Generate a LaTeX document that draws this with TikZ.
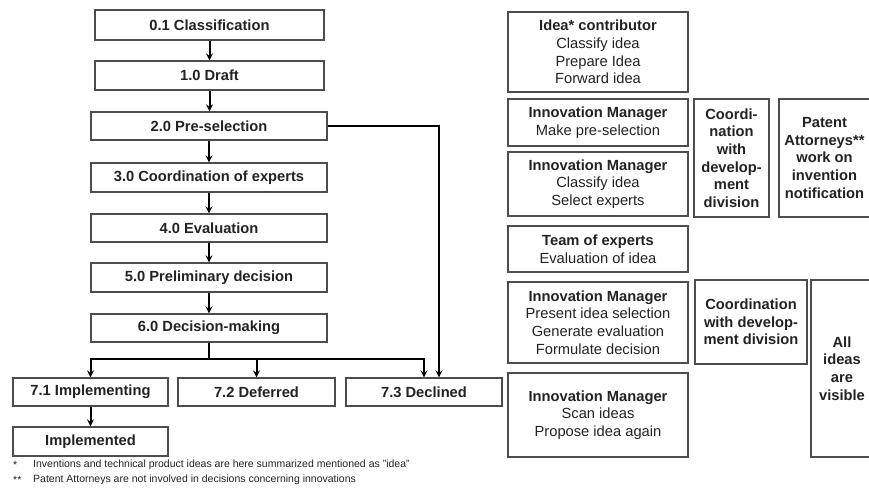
\documentclass[tikz,border=0pt]{standalone}
\usepackage{fontspec}
\setmainfont{Liberation Sans}
\usetikzlibrary{calc}
\definecolor{boxgray}{HTML}{4D4D4D}
\definecolor{inkgray}{HTML}{222222}
\begin{document}
\begin{tikzpicture}
  [x=1pt,y=-1pt,
  stepdecorate/.style={shape=rectangle,draw=boxgray,line width=1.4pt,inner sep=0pt,align=center,text=inkgray,font=\fontsize{14.7}{18}\selectfont\bfseries},
  roledecorate/.style={shape=rectangle,draw=boxgray,line width=1.4pt,inner sep=0pt,align=center,text=inkgray,font=\fontsize{14.7}{17.6}\selectfont},
  remarkdecorate/.style={roledecorate,font=\fontsize{14.7}{17.6}\selectfont\bfseries},
  arrowdecorate/.style={->,>=stealth,line width=2pt},
  notedecorate/.style={anchor=west,inner sep=0pt,text=inkgray,font=\fontsize{10.5}{12}\selectfont}]
  \useasboundingbox (0,0) rectangle (869,491);
  \clip (0,0) rectangle (869,491);
  %% process steps
  \foreach \nodename/\x/\y/\w/\h/\steptext in {cls/209.5/25/229/30/{0.1 Classification},
    drf/209.5/75.5/229/29/{1.0 Draft}, pre/209/126/236/28/{2.0 Pre-selection},
    crd/209/177.5/236/29/{3.0 Coordination of experts}, evl/209/228/236/28/{4.0 Evaluation},
    prl/209/277.5/236/29/{5.0 Preliminary decision}, dec/209/328/236/28/{6.0 Decision-making},
    imp/90.5/392/155/28/{7.1 Implementing}, dfr/256.5/392/157/28/{7.2 Deferred},
    dcl/424/392/156/28/{7.3 Declined}, done/90.5/441.5/155/29/{Implemented}}
  {
    \node (\nodename) at (\x,\y) [stepdecorate,minimum width=\w pt,minimum height=\h pt] {\steptext};
  }
  %% roles
  \foreach \nodename/\x/\y/\w/\h/\roletext in {
    contrib/598/52/180/80/{\textbf{Idea* contributor}\\Classify idea\\Prepare Idea\\Forward idea},
    mgrA/598/122.5/180/47/{\textbf{Innovation Manager}\\Make pre-selection},
    mgrB/598/184/180/64/{\textbf{Innovation Manager}\\Classify idea\\Select experts},
    team/598/249/180/46/{\textbf{Team of experts}\\Evaluation of idea},
    mgrC/598/322.5/180/81/{\textbf{Innovation Manager}\\Present idea selection\\Generate evaluation\\Formulate decision},
    mgrD/598/415/180/84/{\textbf{Innovation Manager}\\Scan ideas\\Propose idea again}}
  {
    \node (\nodename) at (\x,\y) [roledecorate,minimum width=\w pt,minimum height=\h pt] {\roletext};
  }
  %% remarks
  \foreach \nodename/\x/\y/\w/\h/\remarktext in {
    coordA/731.5/158/75/118/{Coordi-\\nation\\with\\develop-\\ment\\division},
    patent/824.5/158/91/118/{Patent\\Attorneys**\\work on\\invention\\notification},
    coordB/751/322/112/84/{Coordination\\with develop-\\ment division},
    visible/842/368.5/62/177/{All\\ideas\\are\\visible}}
  {
    \node (\nodename) at (\x,\y) [remarkdecorate,minimum width=\w pt,minimum height=\h pt] {\remarktext};
  }
  %% edges
  \foreach \startnode/\endnode in {cls/drf, drf/pre, pre/crd, crd/evl, evl/prl, prl/dec, imp/done}
  {
    \draw[arrowdecorate] (\startnode.south) -- (\startnode.south |- \endnode.north);
  }
  \coordinate (fork) at (209,359);
  \draw[line width=2pt] (dec.south) -- (fork);
  \foreach \endnode in {imp, dfr, dcl}
  {
    \draw[arrowdecorate] (fork) -| (\endnode.north);
  }
  \draw[arrowdecorate] (pre.east) -| ($(dcl.north)+(15,0)$);
  %% footnotes
  \node (starA) at (13,465) [notedecorate] {*};
  \node (noteA) at (33,465) [notedecorate] {Inventions and technical product ideas are here summarized mentioned as "idea"};
  \node (starB) at (13,480) [notedecorate] {**};
  \node (noteB) at (33,480) [notedecorate] {Patent Attorneys are not involved in decisions concerning innovations};
\end{tikzpicture}
\end{document}
